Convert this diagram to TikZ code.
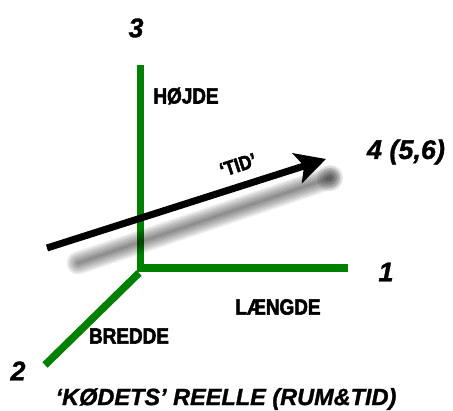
\documentclass[tikz,border=0pt]{standalone}
\usepackage{fontspec}
\setmainfont{Liberation Sans}
\newfontfamily\condfont[FakeStretch=0.86, FakeBold=2.5]{Liberation Sans Bold}
\newfontfamily\numfont[FakeBold=1.2]{Liberation Sans Bold Italic}
\usetikzlibrary{arrows.meta,positioning}
\definecolor{axisgreen}{RGB}{0,128,0}

\tikzset{
  axis/.style={draw=axisgreen, line width=7.5pt},
  dimlabel/.style={font=\condfont\fontsize{22}{22}\selectfont, inner sep=0pt},
  numlabel/.style={font=\numfont\fontsize{27}{27}\selectfont, inner sep=0pt},
  timearrow/.style={line width=7pt, -{Stealth[length=30pt, width=31pt, inset=7pt]}}
}

\begin{document}
\begin{tikzpicture}[x=1pt, y=-1pt]
    \useasboundingbox (0,0) rectangle (453,411);

    % axes
    \coordinate (O) at (140.5,268);
    \coordinate (top) at (140.5,65);
    \coordinate (right) at (348,268);
    \coordinate (diagstart) at (139,273);
    \coordinate (diagend) at (45,365);

    \draw[axis, line join=miter] (top) -- (O) -- (right);
    \draw[axis] (diagstart) -- (diagend);

    % shadow of the time arrow
    \coordinate (sA) at (78,263);
    \coordinate (sB) at (330,178);
    \foreach \w in {2,5,...,23}
        \draw[line width=\w pt, black, opacity=0.07, line cap=round] (sA) -- (sB);
    \foreach \r in {4,7,10,13}
        \fill[black, opacity=0.1] (sB) circle (\r pt);

    % time arrow
    \coordinate (tA) at (47,248);
    \coordinate (tB) at (326,159);
    \draw[timearrow] (tA) -- (tB);

    % labels
    \node[numlabel] (n3) at (136,28) {3};
    \node[numlabel] (n1) at (386,272) {1};
    \node[numlabel] (n2) at (18,371) {2};
    \node[numlabel] (n4) at (406,152) {4 (5,6)};

    \node[dimlabel] (hoejde) at (186,96) {HØJDE};
    \node[dimlabel] (laengde) at (278,307) {LÆNGDE};
    \node[dimlabel] (bredde) at (129,336) {BREDDE};
    \node[font=\condfont\fontsize{20}{20}\selectfont, inner sep=0pt, rotate=18] (tid) at (238,165) {‘TID’};

    \node[font=\numfont\fontsize{23.5}{23.5}\selectfont, inner sep=0pt] (caption) at (226,399) {‘KØDETS’ REELLE (RUM\&TID)};
\end{tikzpicture}
\end{document}
